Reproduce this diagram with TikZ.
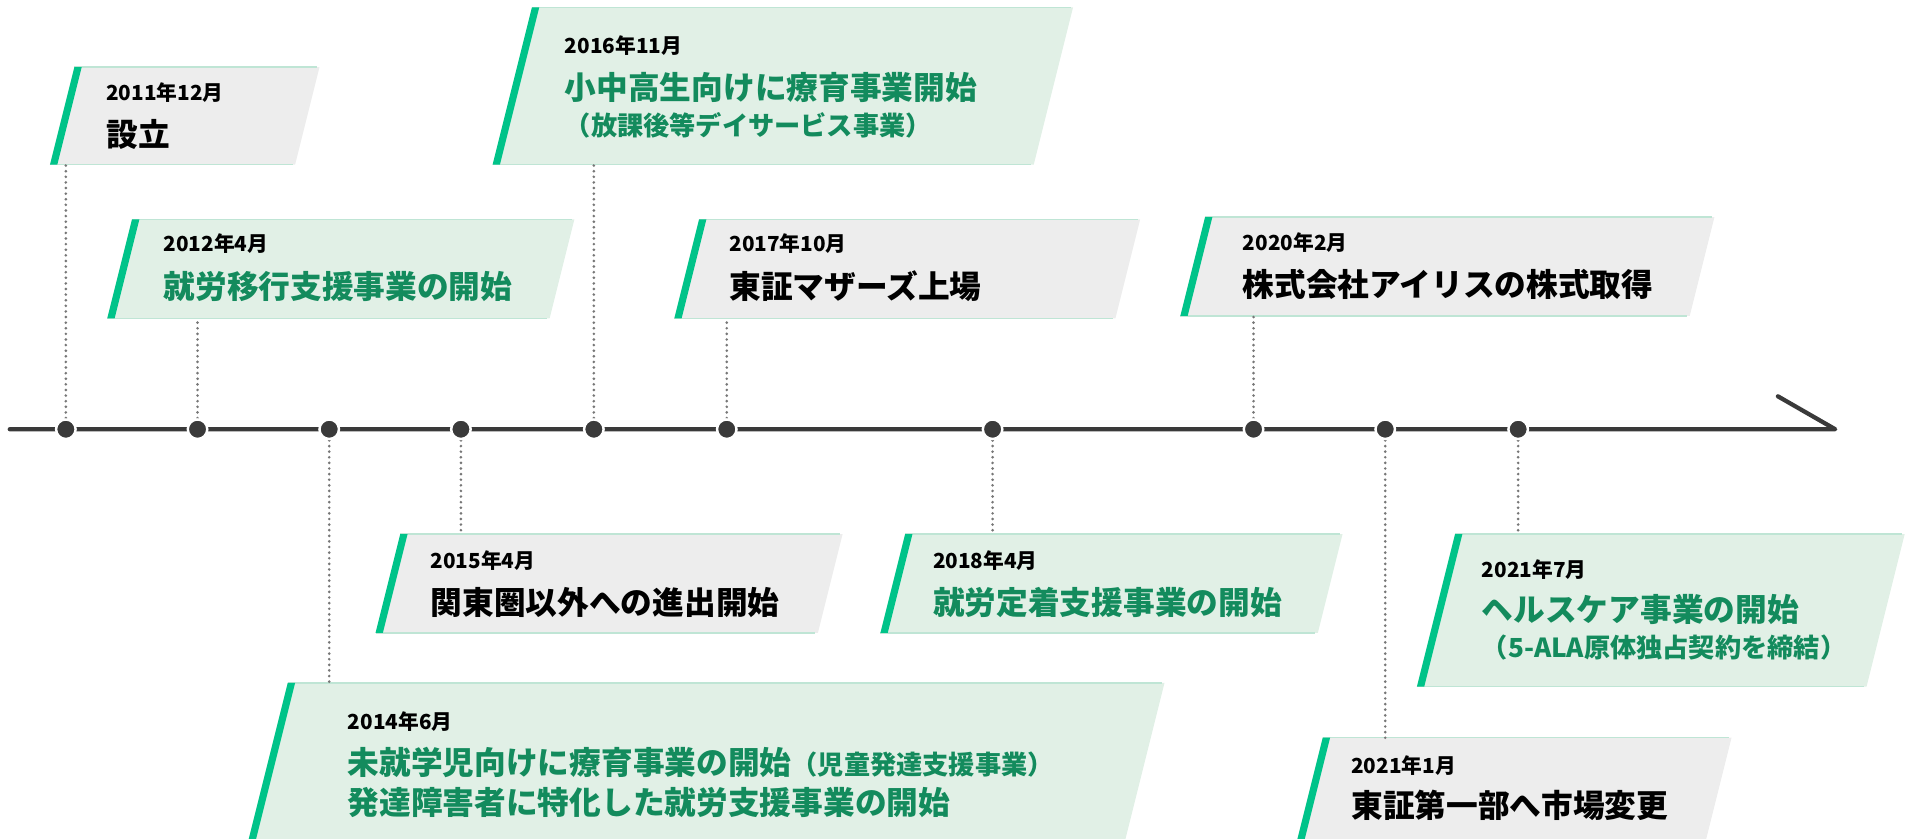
\documentclass[tikz,border=0pt]{standalone}
\usepackage{fontspec}
\setmainfont{Noto Sans CJK JP}
\usetikzlibrary{positioning}

\definecolor{accent}{HTML}{00C389}
\definecolor{leafgreen}{HTML}{E1F0E6}
\definecolor{paper}{HTML}{EDEDED}
\definecolor{edgeline}{HTML}{BFE5D5}
\definecolor{deepgreen}{HTML}{138B5D}
\definecolor{ink}{HTML}{3A3A3A}
\definecolor{dotgray}{HTML}{777777}

% slanted event box: fill, left-bottom x, top y, bottom y, right-top x
\newcommand{\evbox}[5]{%
  \fill[#1] (#2,#4) -- ({#2+0.25*(#4-#3)},#3) -- (#5,#3) -- ({#5-0.25*(#4-#3)},#4) -- cycle;
  \draw[edgeline,line width=1.2pt] ({#2+0.25*(#4-#3)},#3) -- ({#5-2},#3);
  \draw[edgeline,line width=1.2pt] (#2,#4) -- ({#5-0.25*(#4-#3)-2},#4);
  \fill[accent] (#2,#4) -- ({#2+0.25*(#4-#3)},#3) -- ({#2+0.25*(#4-#3)+6},#3) -- ({#2+6},#4) -- cycle;
}

\begin{document}
\begin{tikzpicture}[x=1pt,y=-1pt,
    evdate/.style={anchor=base west,inner sep=0pt,text=black,font=\fontsize{17}{20}\selectfont\bfseries},
    evtitle/.style={anchor=base west,inner sep=0pt,font=\fontsize{26}{30}\selectfont\bfseries},
    evnote/.style={anchor=base west,inner sep=0pt,text=deepgreen,font=\fontsize{21.5}{24}\selectfont\bfseries},
    dot/.style={circle,fill=ink,draw=white,line width=2pt,minimum size=16pt,inner sep=0pt},
    leader/.style={dotgray,line width=2.4pt,dash pattern=on 0pt off 4.6pt,line cap=round},
    axis/.style={ink,line width=3.5pt,line cap=round,line join=round}]
  \useasboundingbox (0,0) rectangle (1568,688);

  % boxes above the line
  \evbox{paper}{41}{55}{135}{262}
  \node[evdate] (t2011) at (87,82.5) {2011年12月};
  \node[evtitle,text=black] (e2011) at (87,120) {設立};

  \evbox{leafgreen}{88}{180}{261}{471}
  \node[evdate] (t2012) at (134,206.5) {2012年4月};
  \node[evtitle,text=deepgreen] (e2012) at (134,245) {就労移行支援事業の開始};

  \evbox{leafgreen}{404}{6}{135}{880}
  \node[evdate] (t2016) at (463,43.5) {2016年11月};
  \node[evtitle,text=deepgreen] (e2016) at (463,82) {小中高生向けに療育事業開始};
  \node[evnote] (n2016) at (463,111) {（放課後等デイサービス事業）};

  \evbox{paper}{553}{180}{261}{935}
  \node[evdate] (t2017) at (598,206.5) {2017年10月};
  \node[evtitle,text=black] (e2017) at (598,245) {東証マザーズ上場};

  \evbox{paper}{968}{178}{259}{1406}
  \node[evdate] (t2020) at (1019,205.5) {2020年2月};
  \node[evtitle,text=black] (e2020) at (1019,243) {株式会社アイリスの株式取得};

  % boxes below the line
  \evbox{paper}{308}{438}{519}{691}
  \node[evdate] (t2015) at (353,466.5) {2015年4月};
  \node[evtitle,text=black] (e2015) at (353,504) {関東圏以外への進出開始};

  \evbox{leafgreen}{722}{438}{519}{1101}
  \node[evdate] (t2018) at (765,466.5) {2018年4月};
  \node[evtitle,text=deepgreen] (e2018) at (765,504) {就労定着支援事業の開始};

  \evbox{leafgreen}{203}{560}{692}{955}
  \node[evdate] (t2014) at (285,598.5) {2014年6月};
  \node[evtitle,text=deepgreen] (e2014) at (285,635) {未就学児向けに療育事業の開始{\fontsize{21.5}{24}\selectfont（児童発達支援事業）}};
  \node[evtitle,text=deepgreen] (f2014) at (285,668) {発達障害者に特化した就労支援事業の開始};

  \evbox{leafgreen}{1162}{438}{563}{1562}
  \node[evdate] (t2021g) at (1215,473.5) {2021年7月};
  \node[evtitle,text=deepgreen] (e2021g) at (1215,510) {ヘルスケア事業の開始};
  \node[evnote] (n2021g) at (1215,539) {（5-ALA原体独占契約を締結）};

  \evbox{paper}{1063}{605}{692}{1420}
  \node[evdate] (t2021a) at (1108,634.5) {2021年1月};
  \node[evtitle,text=black] (e2021a) at (1108,670) {東証第一部へ市場変更};

  % time line
  \coordinate (tl0) at (8,352);
  \coordinate (tl1) at (1505,352);
  \coordinate (barb) at (1458,325);
  \draw[axis] (tl0) -- (tl1) -- (barb);

  % box edges the leaders run to
  \coordinate (b2011) at (54,135);
  \coordinate (b2012) at (162,261);
  \coordinate (b2014) at (270,560);
  \coordinate (b2015) at (378,438);
  \coordinate (b2016) at (487,135);
  \coordinate (b2017) at (596,261);
  \coordinate (b2018) at (814,438);
  \coordinate (b2020) at (1028,259);
  \coordinate (b2021a) at (1136,605);
  \coordinate (b2021g) at (1245,438);

  \draw[leader] (54,352) -- (b2011);
  \draw[leader] (162,352) -- (b2012);
  \draw[leader] (270,352) -- (b2014);
  \draw[leader] (378,352) -- (b2015);
  \draw[leader] (487,352) -- (b2016);
  \draw[leader] (596,352) -- (b2017);
  \draw[leader] (814,352) -- (b2018);
  \draw[leader] (1028,352) -- (b2020);
  \draw[leader] (1136,352) -- (b2021a);
  \draw[leader] (1245,352) -- (b2021g);

  \node[dot] (d2011) at (54,352) {};
  \node[dot] (d2012) at (162,352) {};
  \node[dot] (d2014) at (270,352) {};
  \node[dot] (d2015) at (378,352) {};
  \node[dot] (d2016) at (487,352) {};
  \node[dot] (d2017) at (596,352) {};
  \node[dot] (d2018) at (814,352) {};
  \node[dot] (d2020) at (1028,352) {};
  \node[dot] (d2021a) at (1136,352) {};
  \node[dot] (d2021g) at (1245,352) {};
\end{tikzpicture}
\end{document}
